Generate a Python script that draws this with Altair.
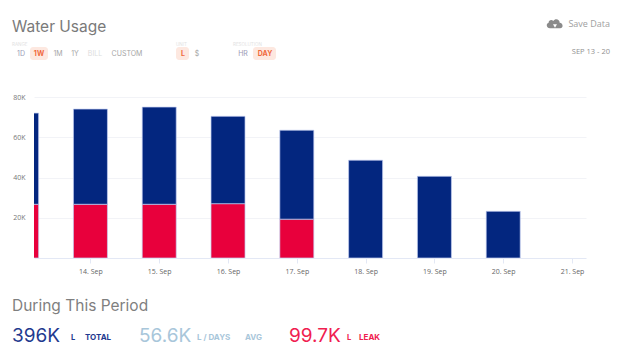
import altair as alt
import pandas as pd

dates = ["2019-09-13", "2019-09-14", "2019-09-15", "2019-09-16", "2019-09-17",
         "2019-09-18", "2019-09-19", "2019-09-20"]
leak_values = [26700, 26700, 26700, 27000, 19300, 0, 0, 0]
usage_values = [45300, 47300, 48300, 43400, 44200, 48600, 40600, 23200]
tick_dates = ["2019-09-14", "2019-09-15", "2019-09-16", "2019-09-17",
              "2019-09-18", "2019-09-19", "2019-09-20", "2019-09-21"]
y_ticks = [20000, 40000, 60000, 80000]

NAVY = "#03267f"
RED = "#e8003c"
LEFT, TOP = 34, 97

rows = []
for d, l, u in zip(dates, leak_values, usage_values):
    rows.append({"date": d, "series": "leak", "rank": 1, "value": l})
    rows.append({"date": d, "series": "usage", "rank": 2, "value": u})
df = pd.DataFrame(rows)

bars = alt.Chart(df).mark_bar(size=34, clip=True, stroke="#c3cdf0", strokeWidth=0.7).encode(
    x=alt.X("date:T",
            scale=alt.Scale(type="utc", nice=False, padding=0,
                            domain=["2019-09-13T04:19:00Z", "2019-09-21T04:53:00Z"]),
            axis=alt.Axis(format="%-d. %b", values=tick_dates, title=None, grid=False,
                          labelFont="Open Sans", labelFontSize=7, labelColor="#666666",
                          tickColor="#e3e8f5", tickSize=5, domainColor="#e3e8f5", domainWidth=1.2,
                          labelPadding=4)),
    y=alt.Y("value:Q", stack="zero",
            scale=alt.Scale(domain=[0, 80000], nice=False),
            axis=alt.Axis(values=y_ticks, labelExpr="datum.value / 1000 + 'K'", title=None,
                          domain=False, ticks=False, gridColor="#f2f3f7", gridWidth=1,
                          labelFont="Open Sans", labelFontSize=7, labelColor="#777777",
                          labelPadding=9)),
    color=alt.Color("series:N", scale=alt.Scale(domain=["leak", "usage"], range=[RED, NAVY]), legend=None),
    order=alt.Order("rank:Q"),
)


def txt(label, px, py, size, color, font="Inter", weight="normal", align="left"):
    return alt.Chart(pd.DataFrame({"t": [label]})).mark_text(
        align=align, baseline="alphabetic", fontSize=size, color=color, font=font, fontWeight=weight,
    ).encode(text="t:N", x=alt.value(px - LEFT), y=alt.value(py - TOP))


def chip(x0, x1, y0, y1):
    return alt.Chart(pd.DataFrame({"a": [1]})).mark_rect(color="#fde8e0", cornerRadius=3).encode(
        x=alt.value(x0 - LEFT), x2=alt.value(x1 - LEFT), y=alt.value(y0 - TOP), y2=alt.value(y1 - TOP))


def symbol(shape, px, py, size, color):
    return alt.Chart(pd.DataFrame({"a": [1]})).mark_point(
        shape=shape, filled=True, size=size, color=color, opacity=1
    ).encode(x=alt.value(px - LEFT), y=alt.value(py - TOP))


CLOUD = ("M-0.6,0.5 C-1.0,0.5 -1.1,-0.05 -0.75,-0.15 C-0.75,-0.5 -0.35,-0.55 -0.2,-0.35 "
         "C0,-0.7 0.55,-0.6 0.55,-0.15 C1.0,-0.1 1.0,0.5 0.6,0.5 Z")

layers = [
    chip(30, 48, 47, 60), chip(176, 189, 47, 60), chip(253, 276, 47, 60),
    bars,
    txt("Water Usage", 12, 32, 15.5, "#7a7a7a"),
    txt("RANGE", 12, 45.5, 4.5, "#e2e2e2"),
    txt("UNIT", 176, 45.5, 4.5, "#e2e2e2"),
    txt("RESOLUTION", 233, 45.5, 4.5, "#e2e2e2"),
    txt("1D", 21, 56, 7, "#9a9ab5", align="center"),
    txt("1W", 39, 56, 7, "#f0693c", weight="bold", align="center"),
    txt("1M", 58, 56, 7, "#a5a5a5", align="center"),
    txt("1Y", 75, 56, 7, "#a5a5a5", align="center"),
    txt("BILL", 95, 56, 7, "#dddddd", align="center"),
    txt("CUSTOM", 127, 56, 7, "#a5a5a5", align="center"),
    txt("L", 183, 56, 7, "#f0693c", weight="bold", align="center"),
    txt("$", 197, 56, 7, "#a5a5a5", align="center"),
    txt("HR", 243, 56, 7, "#9a9ab5", align="center"),
    txt("DAY", 265, 56, 7, "#f0693c", weight="bold", align="center"),
    symbol(CLOUD, 555, 24, 290, "#8a8a8a"),
    symbol("triangle-down", 555, 26, 16, "#ffffff"),
    txt("Save Data", 610, 27, 9, "#a0a0a0", font="Open Sans", align="right"),
    txt("SEP 13 - 20", 610, 54, 7.5, "#909090", font="Open Sans", align="right"),
    txt("During This Period", 12, 311, 15.5, "#7f7f7f"),
    txt("396K", 12, 342, 19, "#1f3a8f"),
    txt("L", 71, 340, 7.5, "#1f3a8f", weight="bold"),
    txt("TOTAL", 85, 340, 8, "#1f3a8f", weight="bold"),
    txt("56.6K", 139, 342, 19, "#a8c6da"),
    txt("L / DAYS", 197, 340, 8, "#a8c6da", weight="bold"),
    txt("AVG", 245, 340, 8, "#a8c6da", weight="bold"),
    txt("99.7K", 289, 342, 19, "#f0204f"),
    txt("L", 347, 340, 7.5, "#f0204f", weight="bold"),
    txt("LEAK", 359, 340, 8, "#f0204f", weight="bold"),
]

chart = alt.layer(*layers).properties(
    width=552, height=161,
    autosize=alt.AutoSizeParams(type="none"),
    padding={"left": LEFT - 8, "top": TOP - 8, "right": 26, "bottom": 91},
    background="white",
).configure_view(stroke=None)

chart.save("out.html", embed_options={"renderer": "svg", "actions": False})
